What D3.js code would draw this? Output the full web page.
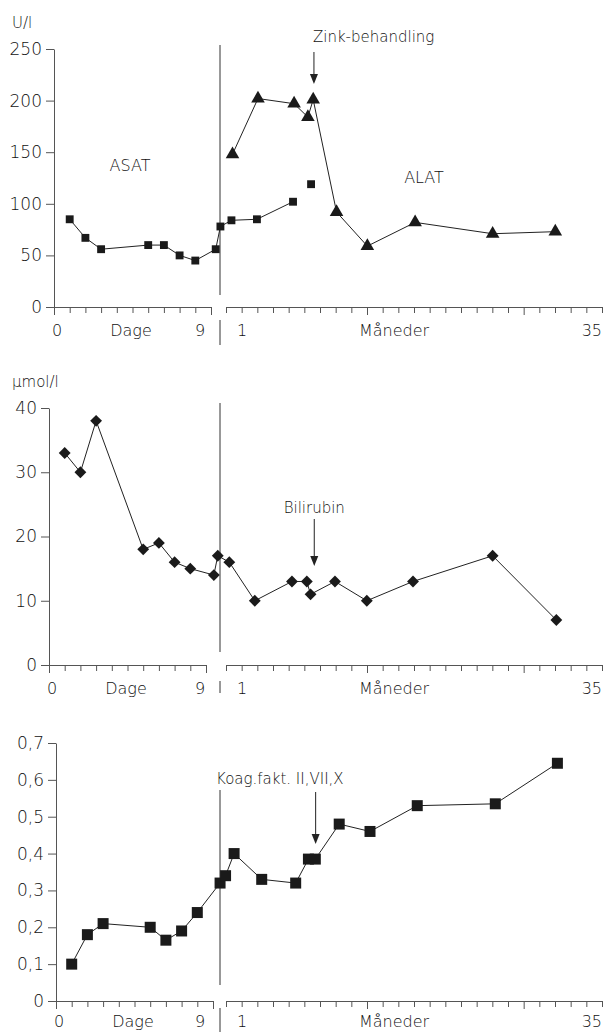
<!DOCTYPE html>
<html>
<head>
<meta charset="utf-8">
<script src="https://cdn.jsdelivr.net/npm/d3@7"></script>
<style>
  body { margin: 0; background: #fff; }
  svg text { font-family: "DejaVu Sans", sans-serif; font-weight: 200; font-size: 15px; fill: #111; }
</style>
</head>
<body>
<svg id="chart" width="607" height="1032"></svg>
<script>
// ------------------------------
// DATA
// ------------------------------
const dayTicks = d3.range(0, 11);
const monthTicks = d3.range(0, 25);
const monthMajor = [9, 19];

// ASAT / ALAT (U/l)
const asatDays = [1, 2, 3, 6, 7, 8, 9, 10.3, 10.6];
const asatDayValues = [85, 67, 56, 60, 60, 50, 45, 56, 78];
const asatMonths = [0.1, 2.5, 5.9];
const asatMonthValues = [84, 85, 102];
const asatExtraMonths = [7.6];
const asatExtraValues = [119];
const alatMonths = [0.2, 2.6, 6.0, 7.3, 7.8, 10.0, 12.9, 17.4, 24.7, 30.6];
const alatValues = [148, 202, 197, 184, 201, 92, 59, 82, 71, 73];
const uTicks = [0, 50, 100, 150, 200, 250];

// Bilirubin (umol/l)
const biliDays = [1, 2, 3, 6, 7, 8, 9, 10.5, 10.75];
const biliDayValues = [33, 30, 38, 18, 19, 16, 15, 14, 17];
const biliMonths = [-0.1, 2.3, 5.8, 7.2, 7.55, 9.85, 12.85, 17.2, 24.7, 30.7];
const biliMonthValues = [16, 10, 13, 13, 11, 13, 10, 13, 17, 7];
const biliTicks = [0, 10, 20, 30, 40];

// Koag.fakt. II,VII,X
const koagDays = [1, 2, 3, 6, 7, 8, 9, 10.45, 10.8];
const koagDayValues = [0.10, 0.18, 0.21, 0.20, 0.165, 0.19, 0.24, 0.32, 0.34];
const koagMonths = [0.35, 2.95, 6.15, 7.35, 8.0, 10.25, 13.15, 17.6, 24.95, 30.8];
const koagMonthValues = [0.40, 0.33, 0.32, 0.385, 0.385, 0.48, 0.46, 0.53, 0.535, 0.645];
const koagTicks = [0, 0.1, 0.2, 0.3, 0.4, 0.5, 0.6, 0.7];

function pts(days, dayVals, months, monthVals) {
  const a = days.map((t, i) => ({ seg: "d", t, v: dayVals[i] }));
  const b = months.map((t, i) => ({ seg: "m", t, v: monthVals[i] }));
  return a.concat(b);
}

const fmt = d3.formatLocale({ decimal: ",", thousands: ".", grouping: [3], currency: ["", ""] }).format("~g");

// ------------------------------
// LAYOUT
// ------------------------------
const panels = [
  {
    x0: 54, yTop: 49, yBot: 307, max: 250, ticks: uTicks, unit: "U/l",
    div: [45, 295], stub: [320, 345], labelGap: 23,
    series: [
      { points: pts(asatDays, asatDayValues, asatMonths, asatMonthValues), shape: "square", size: 62, line: true },
      { points: pts([], [], asatExtraMonths, asatExtraValues), shape: "square", size: 62, line: false },
      { points: pts([], [], alatMonths, alatValues), shape: "triangle", size: 80, line: true }
    ],
    notes: [
      { text: "ASAT", x: 130, y: 165 },
      { text: "ALAT", x: 424, y: 177 }
    ],
    arrow: { text: "Zink-behandling", month: 7.87, anchor: "start", dx: -1, textY: 37, from: 52, to: 84 }
  },
  {
    x0: 49, yTop: 408, yBot: 665, max: 40, ticks: biliTicks, unit: "\u00b5mol/l",
    div: [403, 652], stub: [681, 693], labelGap: 23,
    series: [
      { points: pts(biliDays, biliDayValues, biliMonths, biliMonthValues), shape: "diamond", size: 70, line: true }
    ],
    notes: [],
    arrow: { text: "Bilirubin", month: 7.9, anchor: "middle", dx: 0, textY: 508, from: 519, to: 566 }
  },
  {
    x0: 56, yTop: 743, yBot: 1001, max: 0.7, ticks: koagTicks, unit: null,
    div: [790, 985], stub: [1008, 1032], labelGap: 20,
    series: [
      { points: pts(koagDays, koagDayValues, koagMonths, koagMonthValues), shape: "square", size: 121, line: true }
    ],
    notes: [],
    arrow: { text: "Koag.fakt. II,VII,X", month: 8.03, anchor: "end", dx: 28, textY: 779, from: 792, to: 844 }
  }
];

const svg = d3.select("#chart");

const xMonth = d3.scaleLinear().domain([1, 35]).range([241, 602]);
const xTick = d3.scaleLinear().domain([0, 24]).range([226, 602]);
const divX = 220;

panels.forEach(p => {
  const g = svg.append("g");
  const y = d3.scaleLinear().domain([0, p.max]).range([p.yBot, p.yTop]);
  const xDay = d3.scaleLinear().domain([0, 10]).range([p.x0, p.x0 + 157]);
  const px = d => d.seg === "d" ? xDay(d.t) : xMonth(d.t);

  // y axis
  const ya = g.append("g").attr("transform", `translate(${p.x0},0)`)
    .call(d3.axisLeft(y).tickValues(p.ticks).tickSize(8).tickSizeOuter(0).tickPadding(4).tickFormat(fmt));
  ya.selectAll("text").style("font-size", "17px");

  // x axis: days, then months
  const xa1 = g.append("g").attr("transform", `translate(0,${p.yBot})`)
    .call(d3.axisBottom(xDay).tickValues(dayTicks).tickSize(6).tickSizeOuter(0).tickFormat(""));
  xa1.selectAll(".tick line").filter(d => d === 0 || d === 10).attr("y2", 8);
  const xa2 = g.append("g").attr("transform", `translate(0,${p.yBot})`)
    .call(d3.axisBottom(xTick).tickValues(monthTicks).tickSize(6).tickSizeOuter(0).tickFormat(""));
  xa2.selectAll(".tick line").filter(d => monthMajor.includes(d)).attr("y2", 8);
  g.selectAll(".domain, .tick line").attr("stroke", "#555");

  // tick labels under the axis
  const ly = p.yBot + p.labelGap;
  const xl = [
    { t: "0", x: xDay(0) + 3, a: "middle" },
    { t: "Dage", x: p.x0 + 77, a: "middle" },
    { t: "9", x: 200, a: "middle" },
    { t: "1", x: xMonth(1) + 1, a: "middle" },
    { t: "M\u00e5neder", x: 394, a: "middle" },
    { t: "35", x: 602, a: "end" }
  ];
  g.selectAll(".xl").data(xl).enter().append("text")
    .attr("x", d => d.x).attr("y", ly).attr("dy", "0.35em")
    .attr("text-anchor", d => d.a).style("font-size", "16px").text(d => d.t);

  // break divider
  g.append("line").attr("x1", divX).attr("x2", divX).attr("y1", p.div[0]).attr("y2", p.div[1]).attr("stroke", "#333");
  g.append("line").attr("x1", divX).attr("x2", divX).attr("y1", p.stub[0]).attr("y2", p.stub[1]).attr("stroke", "#333");

  if (p.unit) {
    g.append("text").attr("x", 12).attr("y", p.yTop - 26).attr("dy", "0.35em").text(p.unit);
  }

  // series
  const line = d3.line().x(px).y(d => y(d.v));
  p.series.forEach(s => {
    if (s.line) {
      g.append("path").datum(s.points).attr("d", line)
        .attr("fill", "none").attr("stroke", "#222").attr("stroke-width", 1);
    }
    const type = s.shape === "triangle" ? d3.symbolTriangle : d3.symbolSquare;
    const rot = s.shape === "diamond" ? 45 : 0;
    g.selectAll(null).data(s.points).enter().append("path")
      .attr("d", d3.symbol().type(type).size(s.size))
      .attr("transform", d => `translate(${px(d)},${y(d.v)}) rotate(${rot})`)
      .attr("fill", "#1a1a1a");
  });

  p.notes.forEach(n => {
    g.append("text").attr("x", n.x).attr("y", n.y).attr("dy", "0.35em")
      .attr("text-anchor", "middle").style("font-size", "16px").text(n.text);
  });

  const a = p.arrow, ax = xMonth(a.month);
  g.append("text").attr("x", ax + a.dx).attr("y", a.textY).attr("dy", "0.35em")
    .attr("text-anchor", a.anchor).text(a.text);
  g.append("line").attr("x1", ax).attr("x2", ax).attr("y1", a.from).attr("y2", a.to - 9)
    .attr("stroke", "#222");
  g.append("path").attr("d", `M${ax - 4},${a.to - 10}L${ax + 4},${a.to - 10}L${ax},${a.to}Z`).attr("fill", "#222");
});
</script>
</body>
</html>
